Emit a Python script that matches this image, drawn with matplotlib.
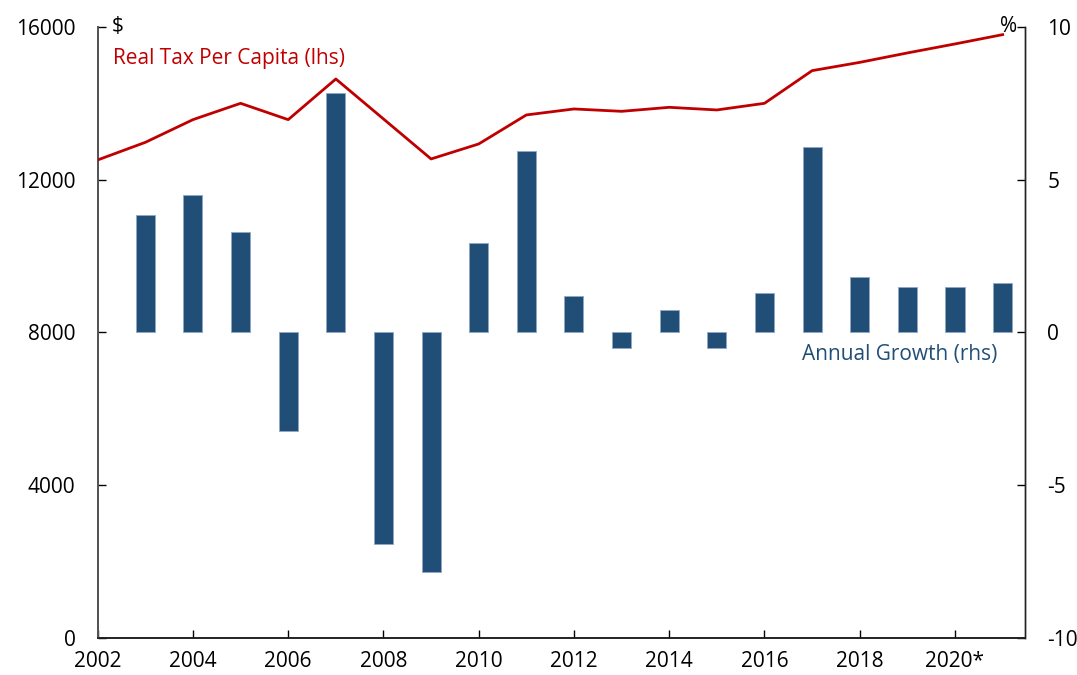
import matplotlib
matplotlib.use("Agg")
import matplotlib.pyplot as plt

# Data
line_years = list(range(2002, 2022))
real_tax_per_capita = [12516, 12977, 13572, 14000, 13572, 14638, 13590, 12542, 12935, 13695,
                       13852, 13790, 13895, 13826, 14000, 14856, 15073, 15320, 15556, 15800]
bar_years = list(range(2003, 2022))
annual_growth = [3.85, 4.48, 3.28, -3.22, 7.85, -6.94, -7.84, 2.93, 5.94,
                 1.18, -0.53, 0.72, -0.53, 1.27, 6.06, 1.81, 1.49, 1.49, 1.62]
xtick_pos = list(range(2002, 2021, 2))
xtick_labels = ["2002", "2004", "2006", "2008", "2010", "2012", "2014", "2016", "2018", "2020*"]
left_ticks = [0, 4000, 8000, 12000, 16000]
right_ticks = [-10, -5, 0, 5, 10]

RED = "#C00000"
BLUE = "#204E77"
plt.rcParams['font.family'] = ["Open Sans", "DejaVu Sans"]
FS = 15

L, R, B, T = 97.7, 1025.0, 637.5, 27.0
fig = plt.figure(figsize=(10.77, 6.75), dpi=100)
ax = fig.add_axes([L/1077, 1 - B/675, (R-L)/1077, (B-T)/675])
ax2 = ax.twinx()

ax2.bar(bar_years, annual_growth, width=0.4, color=BLUE, edgecolor="#8FA8C2", linewidth=0.6, zorder=2)
ax.plot(line_years, real_tax_per_capita, color=RED, linewidth=2.0, zorder=3)

ax.set_zorder(ax2.get_zorder() + 1)
ax.patch.set_visible(False)

ax.set_xlim(2002, 2021.47)
ax.set_ylim(0, 16000)
ax2.set_ylim(-10, 10)

ax.set_xticks(xtick_pos)
ax.set_xticklabels(xtick_labels)
ax.set_yticks(left_ticks)
ax.set_yticklabels([str(t) for t in left_ticks])
ax2.set_yticks(right_ticks)
ax2.set_yticklabels([str(t) for t in right_ticks])

for a in (ax, ax2):
    a.spines['top'].set_visible(False)
    a.spines['bottom'].set_color("#222222")
    a.spines['right'].set_color("#222222")
    a.spines['left'].set_color("#555555")
    a.spines['left'].set_linewidth(1.4)
    a.spines['right'].set_linewidth(1.0)
    a.spines['bottom'].set_linewidth(1.2)

ax.tick_params(axis='x', direction='in', length=6, width=1, pad=10, labelsize=FS, colors="#000000")
ax.tick_params(axis='y', direction='in', length=5.5, width=1, pad=16, labelsize=FS)
ax2.tick_params(axis='y', direction='in', length=5.5, width=1, pad=16, labelsize=FS)

ax.text(0.015, 1.018, "$", transform=ax.transAxes, ha='left', va='top', fontsize=FS, color="black")
ax.text(0.991, 1.018, "%", transform=ax.transAxes, ha='right', va='top', fontsize=FS, color="black")
ax.text(0.016, 0.939, "Real Tax Per Capita (lhs)", transform=ax.transAxes, ha='left', va='baseline',
        fontsize=FS, color=RED)
ax.text(0.970, 0.4545, "Annual Growth (rhs)", transform=ax.transAxes, ha='right', va='baseline',
        fontsize=FS, color=BLUE)

fig.savefig("out.png", dpi=100)
